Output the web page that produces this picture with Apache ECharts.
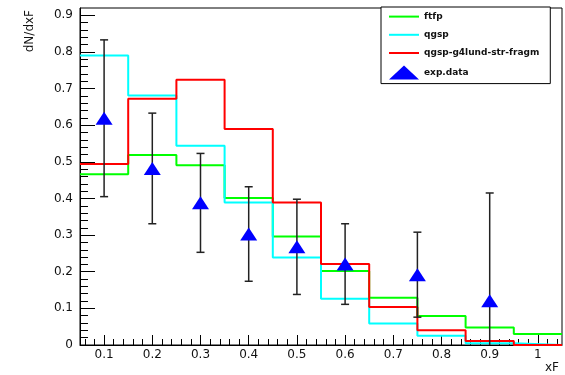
<!DOCTYPE html>
<html>
<head>
<meta charset="utf-8">
<script src="https://cdn.jsdelivr.net/npm/echarts@6/dist/echarts.min.js"></script>
<style>
html,body{margin:0;padding:0;background:#fff;}
#chart{width:565px;height:375px;}
</style>
</head>
<body>
<div id="chart"></div>
<script>
// ---- data ----
var binEdges = [0.05, 0.15, 0.25, 0.35, 0.45, 0.55, 0.65, 0.75, 0.85, 0.95, 1.05];
var ftfp = [0.466, 0.519, 0.491, 0.401, 0.296, 0.202, 0.129, 0.079, 0.048, 0.030];
var qgsp = [0.790, 0.681, 0.544, 0.389, 0.239, 0.126, 0.059, 0.025, 0.005, 0.0];
var qgspLund = [0.494, 0.672, 0.724, 0.590, 0.389, 0.221, 0.104, 0.040, 0.011, 0.0];
var expX = [0.1, 0.2, 0.3, 0.4, 0.5, 0.6, 0.75, 0.9];
var expY = [0.619, 0.482, 0.388, 0.303, 0.268, 0.221, 0.192, 0.121];
var expErr = [0.214, 0.151, 0.135, 0.129, 0.130, 0.110, 0.116, 0.294];
var xTicks = [0.1, 0.2, 0.3, 0.4, 0.5, 0.6, 0.7, 0.8, 0.9, 1.0];
var xTickLabels = ['0.1', '0.2', '0.3', '0.4', '0.5', '0.6', '0.7', '0.8', '0.9', '1'];
var yTicks = [0, 0.1, 0.2, 0.3, 0.4, 0.5, 0.6, 0.7, 0.8, 0.9];
var yTickLabels = ['0', '0.1', '0.2', '0.3', '0.4', '0.5', '0.6', '0.7', '0.8', '0.9'];
var seriesNames = ['ftfp', 'qgsp', 'qgsp-g4lund-str-fragm', 'exp.data'];

// minor tick positions (every 0.02)
function minorTicks(lo, hi, majors) {
  var out = [];
  for (var k = Math.ceil(lo / 0.02 - 1e-9); k * 0.02 <= hi + 1e-9; k++) {
    var v = +(k * 0.02).toFixed(4);
    var isMajor = majors.some(function (m) { return Math.abs(m - v) < 1e-6; });
    if (!isMajor && v > lo + 1e-9 && v < hi - 1e-9) out.push(v);
  }
  return out;
}
var xMinor = minorTicks(0.05, 1.05, xTicks);
var yMinor = minorTicks(0, 0.92, yTicks);

function stepData(vals) {
  var d = vals.map(function (v, i) { return [binEdges[i], v]; });
  d.push([binEdges[binEdges.length - 1], vals[vals.length - 1]]);
  return d;
}
function lookup(ticks, labels, v) {
  for (var i = 0; i < ticks.length; i++) if (Math.abs(ticks[i] - v) < 1e-6) return labels[i];
  return '';
}

var FONT = 'DejaVu Sans';
var chart = echarts.init(document.getElementById('chart'), null, {renderer: 'canvas'});
var option = {
  animation: false,
  backgroundColor: '#fff',
  grid: {left: 80, top: 8, right: 3, bottom: 30, show: true, borderColor: '#000', borderWidth: 1, backgroundColor: 'transparent'},
  xAxis: [{
    type: 'value', min: 0.05, max: 1.05, position: 'bottom',
    axisLine: {show: true, onZero: false, lineStyle: {color: '#000', width: 1}},
    axisTick: {show: true, inside: true, length: 10, customValues: xTicks, lineStyle: {color: '#000', width: 1}},
    axisLabel: {show: true, customValues: xTicks, margin: 4, color: '#111', fontFamily: FONT, fontSize: 12,
      formatter: function (v) { return lookup(xTicks, xTickLabels, v); }},
    splitLine: {show: false}
  }, {
    type: 'value', min: 0.05, max: 1.05, position: 'bottom',
    axisLine: {show: false, onZero: false},
    axisTick: {show: true, inside: true, length: 6, customValues: xMinor, lineStyle: {color: '#000', width: 1}},
    axisLabel: {show: false},
    splitLine: {show: false}
  }],
  yAxis: [{
    type: 'value', min: 0, max: 0.92, position: 'left',
    axisLine: {show: true, onZero: false, lineStyle: {color: '#000', width: 1}},
    axisTick: {show: true, inside: true, length: 15, customValues: yTicks, lineStyle: {color: '#000', width: 1}},
    axisLabel: {show: true, customValues: yTicks, margin: 7, color: '#111', fontFamily: FONT, fontSize: 12,
      formatter: function (v) { return lookup(yTicks, yTickLabels, v); }},
    splitLine: {show: false}
  }, {
    type: 'value', min: 0, max: 0.92, position: 'left',
    axisLine: {show: false, onZero: false},
    axisTick: {show: true, inside: true, length: 8, customValues: yMinor, lineStyle: {color: '#000', width: 1}},
    axisLabel: {show: false},
    splitLine: {show: false}
  }],
  legend: {
    show: true, orient: 'vertical', left: 381, top: 7,
    padding: [4, 11, 4, 7], itemGap: 7, itemWidth: 30, itemHeight: 14,
    borderColor: '#000', borderWidth: 1, backgroundColor: '#fff',
    textStyle: {fontFamily: FONT, fontSize: 9, fontWeight: 'bold', color: '#111'},
    data: [
      {name: seriesNames[0], itemStyle: {opacity: 0}},
      {name: seriesNames[1], itemStyle: {opacity: 0}},
      {name: seriesNames[2], itemStyle: {opacity: 0}},
      {name: seriesNames[3]}
    ]
  },
  graphic: [
    {type: 'text', x: 30, y: 10, rotation: Math.PI / 2,
      style: {text: 'dN/dxF', font: '12px "DejaVu Sans"', fill: '#111', align: 'right', verticalAlign: 'middle'}},
    {type: 'text', x: 559, y: 368,
      style: {text: 'xF', font: '12px "DejaVu Sans"', fill: '#111', align: 'right', verticalAlign: 'middle'}}
  ],
  series: [
    {name: seriesNames[0], type: 'line', step: 'end', xAxisIndex: 0, yAxisIndex: 0, symbol: 'none',
      lineStyle: {color: '#00ff00', width: 2}, itemStyle: {color: '#00ff00'}, data: stepData(ftfp), z: 2},
    {name: seriesNames[1], type: 'line', step: 'end', xAxisIndex: 0, yAxisIndex: 0, symbol: 'none',
      lineStyle: {color: '#00ffff', width: 2}, itemStyle: {color: '#00ffff'}, data: stepData(qgsp), z: 3},
    {name: seriesNames[2], type: 'line', step: 'end', xAxisIndex: 0, yAxisIndex: 0, symbol: 'none',
      lineStyle: {color: '#ff0000', width: 2}, itemStyle: {color: '#ff0000'}, data: stepData(qgspLund), z: 4},
    {name: 'errors', type: 'custom', xAxisIndex: 0, yAxisIndex: 0, clip: true, z: 5,
      encode: {x: 0, y: 1},
      data: expX.map(function (x, i) { return [x, expY[i], expErr[i]]; }),
      renderItem: function (params, api) {
        var x = api.value(0), y = api.value(1), e = api.value(2);
        var t = api.coord([x, y + e]), b = api.coord([x, y - e]);
        var cap = 4, st = {stroke: '#222', lineWidth: 1.5};
        return {type: 'group', children: [
          {type: 'line', shape: {x1: t[0], y1: t[1], x2: b[0], y2: b[1]}, style: st},
          {type: 'line', shape: {x1: t[0] - cap, y1: t[1], x2: t[0] + cap, y2: t[1]}, style: st},
          {type: 'line', shape: {x1: b[0] - cap, y1: b[1], x2: b[0] + cap, y2: b[1]}, style: st}
        ]};
      }
    },
    {name: seriesNames[3], type: 'scatter', xAxisIndex: 0, yAxisIndex: 0, symbol: 'triangle', symbolSize: [17, 13],
      itemStyle: {color: '#0000ff', opacity: 1}, z: 6,
      data: expX.map(function (x, i) { return [x, expY[i]]; })}
  ]
};
chart.setOption(option);
</script>
</body>
</html>
